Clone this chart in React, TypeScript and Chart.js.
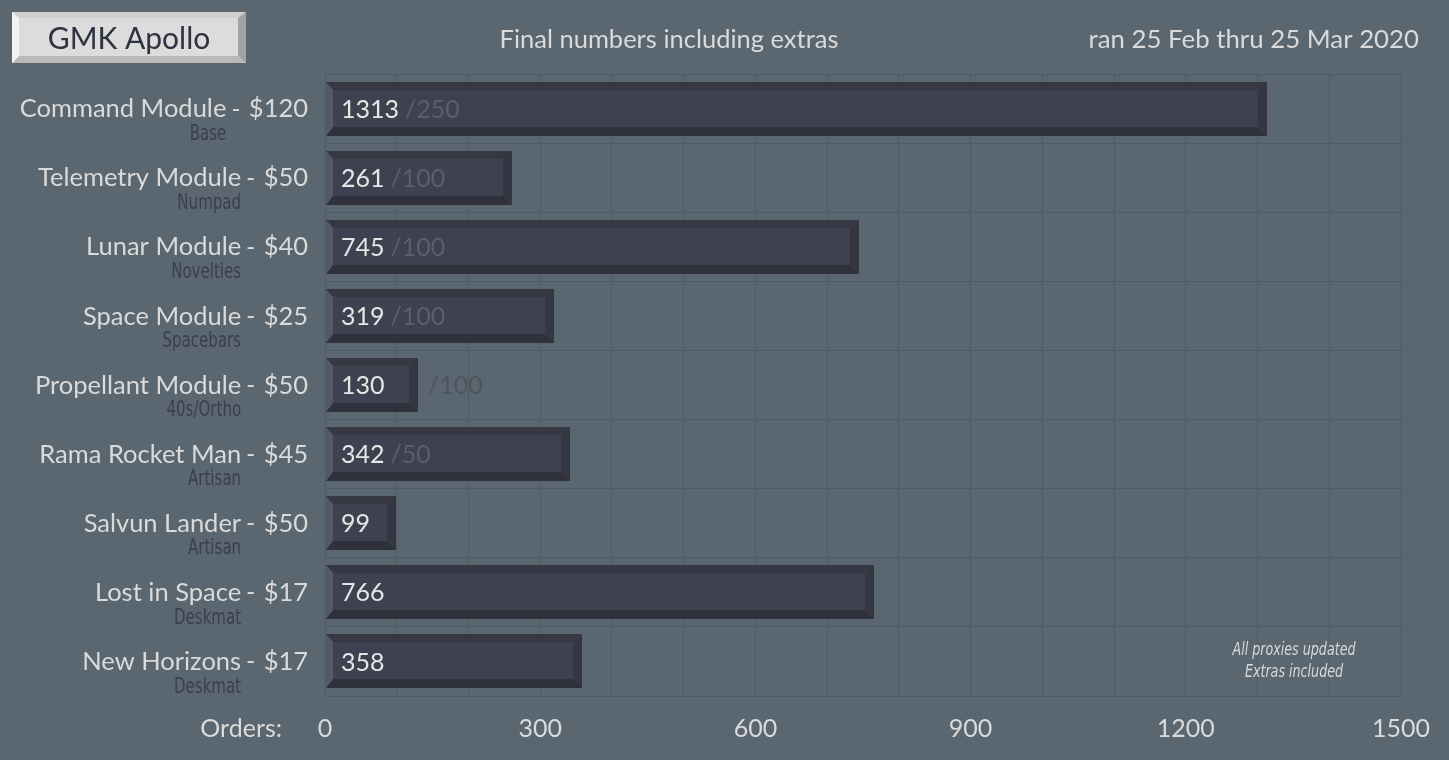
import React, { useEffect, useRef } from "react";
import { Chart, registerables } from "chart.js";

Chart.register(...registerables);

const categories = [
  "Command Module",
  "Telemetry Module",
  "Lunar Module",
  "Space Module",
  "Propellant Module",
  "Rama Rocket Man",
  "Salvun Lander",
  "Lost in Space",
  "New Horizons",
];
const prices = ["$120", "$50", "$40", "$25", "$50", "$45", "$50", "$17", "$17"];
const kinds = ["Base", "Numpad", "Novelties", "Spacebars", "40s/Ortho", "Artisan", "Artisan", "Deskmat", "Deskmat"];
const orders = [1313, 261, 745, 319, 130, 342, 99, 766, 358];
const targets: (number | null)[] = [250, 100, 100, 100, 100, 50, null, null, null];
const axisMin = 0;
const axisMax = 1500;
const gridStep = 100;
const labelStep = 300;

const titleText = "GMK Apollo";
const subtitleText = "Final numbers including extras";
const dateText = "ran 25 Feb thru 25 Mar 2020";
const axisTitle = "Orders:";
const noteLines = ["All proxies updated", "Extras included"];

const BG = "#5b6770";
const GRID = "#4f5a63";
const LIGHT = "#dadada";
const MAIN_FONT = "Lato, 'Open Sans', sans-serif";
const NARROW_FONT = "'Liberation Sans Narrow', 'DejaVu Sans Condensed', sans-serif";

function poly(ctx: CanvasRenderingContext2D, pts: number[][], color: string) {
  ctx.beginPath();
  ctx.moveTo(pts[0][0], pts[0][1]);
  for (let i = 1; i < pts.length; i++) ctx.lineTo(pts[i][0], pts[i][1]);
  ctx.closePath();
  ctx.fillStyle = color;
  ctx.fill();
}

function bevelBox(
  ctx: CanvasRenderingContext2D,
  L: number, T: number, R: number, B: number,
  w: { t: number; b: number; l: number; r: number },
  c: { face: string; t: string; b: string; l: string; r: string }
) {
  ctx.fillStyle = c.face;
  ctx.fillRect(L, T, R - L, B - T);
  poly(ctx, [[L, T], [R, T], [R - w.r, T + w.t], [L + w.l, T + w.t]], c.t);
  poly(ctx, [[L, B], [R, B], [R - w.r, B - w.b], [L + w.l, B - w.b]], c.b);
  poly(ctx, [[L, T], [L + w.l, T + w.t], [L + w.l, B - w.b], [L, B]], c.l);
  poly(ctx, [[R, T], [R - w.r, T + w.t], [R - w.r, B - w.b], [R, B]], c.r);
}

const bgPlugin = {
  id: "bgPlugin",
  beforeDraw(chart: any) {
    const ctx = chart.ctx;
    ctx.save();
    ctx.fillStyle = BG;
    ctx.fillRect(0, 0, chart.width, chart.height);
    ctx.restore();
  },
};

const barPlugin = {
  id: "barPlugin",
  afterDatasetsDraw(chart: any) {
    const ctx: CanvasRenderingContext2D = chart.ctx;
    const meta = chart.getDatasetMeta(0);
    ctx.save();
    meta.data.forEach((bar: any, i: number) => {
      const p = bar.getProps(["x", "y", "base", "height"], true);
      const L = Math.round(p.base);
      const R = Math.round(p.x);
      const T = Math.round(p.y - p.height / 2);
      const B = Math.round(p.y + p.height / 2);
      bevelBox(ctx, L, T, R, B, { t: 8, b: 9, l: 7, r: 9 }, {
        face: "#3e4250",
        t: "#363943",
        b: "#2f323c",
        l: "#535965",
        r: "#343741",
      });
      const cy = p.y + 1;
      ctx.font = `25px ${MAIN_FONT}`;
      ctx.textBaseline = "middle";
      ctx.textAlign = "left";
      ctx.fillStyle = "#e6e6e6";
      const numText = String(orders[i]);
      const nx = L + 15;
      ctx.fillText(numText, nx, cy);
      const nw = ctx.measureText(numText).width;
      const t = targets[i];
      if (t !== null && t !== undefined) {
        const tt = "/" + t;
        const tw = ctx.measureText(tt).width;
        let tx = nx + nw + 6;
        if (tx + tw > R - 12) {
          tx = R + 10;
          ctx.fillStyle = "#4c545d";
        } else {
          ctx.fillStyle = "#5a5f6b";
        }
        ctx.fillText(tt, tx, cy);
      }
    });
    ctx.restore();
  },
};

const textPlugin = {
  id: "textPlugin",
  afterDraw(chart: any) {
    const ctx: CanvasRenderingContext2D = chart.ctx;
    const yScale = chart.scales.y;
    const area = chart.chartArea;
    ctx.save();
    // category labels
    const labelRight = 308;
    categories.forEach((name, i) => {
      const yc = yScale.getPixelForValue(i);
      const y = yc + 0.5;
      ctx.font = `25.5px ${MAIN_FONT}`;
      ctx.textBaseline = "middle";
      ctx.textAlign = "right";
      ctx.fillStyle = LIGHT;
      ctx.fillText(prices[i], labelRight, y);
      const pw = ctx.measureText(prices[i]).width;
      const priceStart = labelRight - pw;
      // dash
      ctx.save();
      ctx.translate(priceStart - 13, y);
      ctx.scale(0.6, 1.15);
      ctx.textAlign = "center";
      ctx.fillText("–", 0, 0);
      ctx.restore();
      const nameEnd = priceStart - 22.5;
      ctx.textAlign = "right";
      ctx.fillText(name, nameEnd, y);
      ctx.save();
      ctx.font = `22px ${NARROW_FONT}`;
      ctx.fillStyle = "#3a404b";
      ctx.translate(nameEnd, yc + 25.5);
      ctx.scale(0.76, 1);
      ctx.textAlign = "right";
      ctx.fillText(kinds[i], 0, 0);
      ctx.restore();
    });
    // axis title
    ctx.font = `25px ${MAIN_FONT}`;
    ctx.textAlign = "right";
    ctx.textBaseline = "middle";
    ctx.fillStyle = LIGHT;
    ctx.fillText(axisTitle, 282, area.bottom + 33);

    // header button
    bevelBox(ctx, 12, 12, 246, 63, { t: 6, b: 7, l: 7, r: 8 }, {
      face: "#dcdcdc",
      t: "#cfcfcf",
      b: "#b9b9b9",
      l: "#f2f2f2",
      r: "#a2a2a2",
    });
    ctx.font = `30px ${MAIN_FONT}`;
    ctx.textAlign = "center";
    ctx.fillStyle = "#2f3341";
    ctx.fillText(titleText, 129, 39);

    ctx.font = `25.5px ${MAIN_FONT}`;
    ctx.fillStyle = LIGHT;
    ctx.textAlign = "center";
    ctx.fillText(subtitleText, 669, 40);
    ctx.font = `25.8px ${MAIN_FONT}`;
    ctx.textAlign = "right";
    ctx.fillText(dateText, 1419, 40);

    // note
    ctx.fillStyle = "#d8d8d8";
    noteLines.forEach((line, k) => {
      ctx.save();
      ctx.font = `italic 17px ${NARROW_FONT}`;
      ctx.translate(1294, 651 + k * 22);
      ctx.scale(0.83, 1);
      ctx.textAlign = "center";
      ctx.textBaseline = "middle";
      ctx.fillText(line, 0, 0);
      ctx.restore();
    });
    ctx.restore();
  },
};

export default function App() {
  const ref = useRef<HTMLCanvasElement | null>(null);
  useEffect(() => {
    const canvas = ref.current;
    if (!canvas) return;
    const chart = new Chart(canvas, {
      type: "bar",
      data: {
        labels: categories,
        datasets: [
          {
            data: orders,
            backgroundColor: "rgba(0,0,0,0)",
            borderWidth: 0,
            barPercentage: 0.78,
            categoryPercentage: 1,
          },
        ],
      },
      options: {
        indexAxis: "y",
        responsive: false,
        animation: false,
        devicePixelRatio: 1,
        layout: { padding: { left: 325, top: 74, right: 48, bottom: 0 } },
        plugins: { legend: { display: false }, tooltip: { enabled: false } },
        scales: {
          x: {
            min: axisMin,
            max: axisMax,
            ticks: {
              stepSize: gridStep,
              autoSkip: false,
              maxRotation: 0,
              color: LIGHT,
              font: { family: MAIN_FONT, size: 25 },
              padding: 18,
              callback: (v: any) => (Number(v) % labelStep === 0 ? String(v) : ""),
            },
            grid: { color: GRID, drawTicks: false, lineWidth: 1 },
            border: { display: true, color: GRID },
            afterFit: (s: any) => {
              s.height = 64;
            },
          },
          y: {
            ticks: { display: false },
            grid: { color: GRID, drawTicks: false, offset: true },
            border: { display: true, color: GRID },
            afterFit: (s: any) => {
              s.width = 0;
            },
          },
        },
      },
      plugins: [bgPlugin, barPlugin, textPlugin],
    } as any);
    return () => chart.destroy();
  }, []);
  return (
    <div style={{ position: "fixed", left: 0, top: 0, width: 1449, height: 760, background: BG }}>
      <canvas ref={ref} width={1449} height={760} style={{ display: "block", width: 1449, height: 760 }} />
    </div>
  );
}
